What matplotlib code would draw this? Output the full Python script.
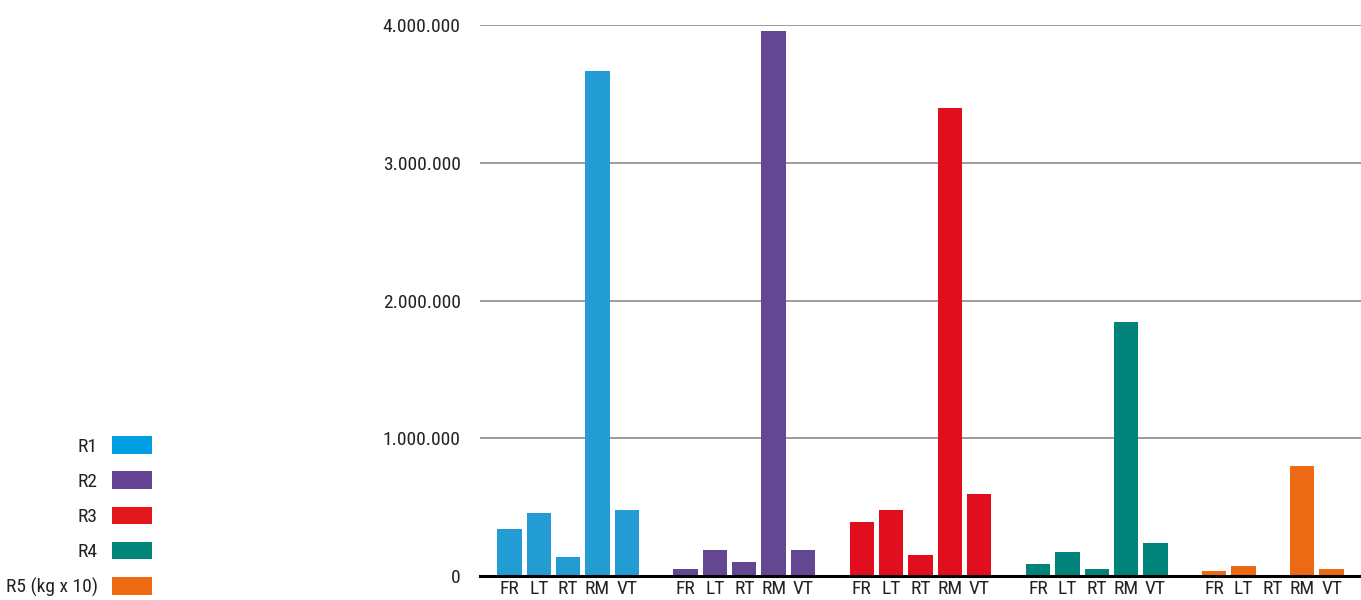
import numpy as np
import matplotlib
matplotlib.use("Agg")
import matplotlib.pyplot as plt
from matplotlib import font_manager
from matplotlib.patches import Patch
from matplotlib.ticker import FuncFormatter

# pick a narrow font if one is around
names = {f.name for f in font_manager.fontManager.ttflist}
for fam in ["Roboto Condensed", "Liberation Sans Narrow", "Roboto"]:
    if fam in names:
        break
plt.rcParams["font.family"] = [fam, "DejaVu Sans"]

# data
groups = ["R1", "R2", "R3", "R4", "R5 (kg x 10)"]
cats = ["FR", "LT", "RT", "RM", "VT"]
r1 = [340000, 455000, 137000, 3665000, 477000]
r2 = [49000, 187000, 100000, 3955000, 187000]
r3 = [390000, 477000, 150000, 3400000, 593000]
r4 = [85000, 172000, 49000, 1845000, 237000]
r5 = [34000, 70000, 0, 797000, 49000]
series = [r1, r2, r3, r4, r5]
bar_colors = ["#239BD3", "#634792", "#E10E1E", "#00837A", "#EC6A13"]
legend_colors = ["#009FE3", "#654593", "#E3161A", "#00857A", "#EE6B12"]

fs = 14

fig = plt.figure(figsize=(13.61, 6.0), dpi=100)
ax = fig.add_axes([480 / 1361, 24 / 600, 881 / 1361, 551 / 600])

xpos, xlab = [], []
for g, vals in enumerate(series):
    x = 1 + 6 * g + np.arange(len(cats))
    ax.bar(x, vals, width=0.83, color=bar_colors[g], zorder=3)
    xpos.extend(x)
    xlab.extend(cats)

ax.set_xlim(0, 30)
ax.set_ylim(0, 4000000)
ax.set_yticks([0, 1000000, 2000000, 3000000, 4000000])
ax.yaxis.set_major_formatter(FuncFormatter(lambda v, p: f"{int(v):,}".replace(",", ".")))
ax.set_xticks(xpos)
ax.set_xticklabels(xlab)
ax.tick_params(axis="both", length=0, labelsize=fs, colors="#222222")
ax.tick_params(axis="y", pad=14)
ax.tick_params(axis="x", pad=3)

ax.grid(axis="y", color="#8a8a8a", linewidth=1.2, zorder=0)
for s in ["top", "right", "left"]:
    ax.spines[s].set_visible(False)
ax.spines["bottom"].set_color("black")
ax.spines["bottom"].set_linewidth(2.2)
ax.spines["bottom"].set_zorder(4)

handles = [Patch(facecolor=c, edgecolor="none") for c in legend_colors]
fig.legend(handles, groups, loc="lower right", bbox_to_anchor=(152 / 1361, 3 / 600),
           frameon=False, markerfirst=False, fontsize=fs, handlelength=2.06,
           handleheight=1.0, handletextpad=0.72, labelspacing=0.82,
           borderpad=0, borderaxespad=0, labelcolor="#222222")

fig.savefig("out.png", dpi=100)
